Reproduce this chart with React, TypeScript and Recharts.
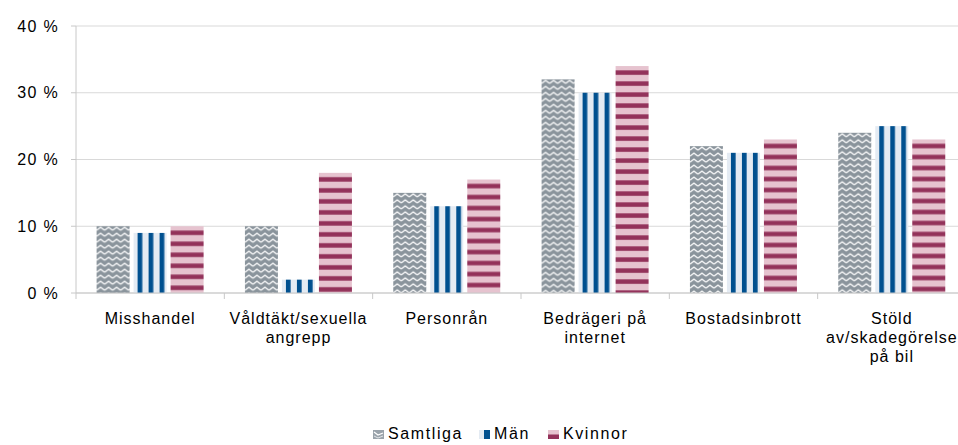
import { BarChart, Bar, XAxis, YAxis, CartesianGrid, Legend } from "recharts";

const categories = [
  "Misshandel",
  "Våldtäkt/sexuella\nangrepp",
  "Personrån",
  "Bedrägeri på\ninternet",
  "Bostadsinbrott",
  "Stöld\nav/skadegörelse\npå bil",
];
const samtliga = [10, 10, 15, 32, 22, 24];
const man = [9, 2, 13, 30, 21, 25];
const kvinnor = [10, 18, 17, 34, 23, 23];
const yTicks = [0, 10, 20, 30, 40];

const data = categories.map((name, i) => ({
  name,
  samtliga: samtliga[i],
  man: man[i],
  kvinnor: kvinnor[i],
}));

const FONT = "'Liberation Sans', Arial, Helvetica, sans-serif";
const AXIS = "#c8c8c8";

const patternShape = (id: string) => (props: any) => {
  const { x, y, width, height } = props;
  if (!height || height <= 0) return <g />;
  return (
    <g transform={`translate(${x},${y})`}>
      <rect x={0} y={0} width={width} height={height} fill={`url(#${id})`} />
    </g>
  );
};

const XTick = (props: any) => {
  const { x, y, payload, index } = props;
  const lines = String(payload.value).split("\n");
  const off = payload.offset || 0;
  return (
    <g>
      <line x1={x - off} y1={y} x2={x - off} y2={y + 6} stroke={AXIS} />
      {index === categories.length - 1 && (
        <line x1={x + off} y1={y} x2={x + off} y2={y + 6} stroke={AXIS} />
      )}
      <text
        x={x}
        y={y}
        textAnchor="middle"
        fontSize={16}
        fontFamily={FONT}
        fill="#000"
        style={{ letterSpacing: "1px" }}
      >
        {lines.map((l, i) => (
          <tspan key={i} x={x} y={y + 31 + i * 19}>
            {l}
          </tspan>
        ))}
      </text>
    </g>
  );
};

const legendItems = [
  { label: "Samtliga", icon: "samtliga" },
  { label: "Män", icon: "man" },
  { label: "Kvinnor", icon: "kvinnor" },
];

const LegendIcon = ({ kind }: { kind: string }) => (
  <svg width={11} height={9} style={{ marginRight: 4 }}>
    {kind === "samtliga" && (
      <>
        <rect width={11} height={9} fill="#9aa3ab" />
        <polyline points="1,2 5,5 10,3" fill="none" stroke="#fff" strokeWidth={1.2} />
        <polyline points="1,6 5,8 10,6" fill="none" stroke="#e4e7ea" strokeWidth={1} />
      </>
    )}
    {kind === "man" && (
      <>
        <rect width={11} height={9} fill="#e4ebf3" />
        <rect x={5} width={6} height={9} fill="#00508f" />
      </>
    )}
    {kind === "kvinnor" && (
      <>
        <rect width={11} height={9} fill="#e6c3cf" />
        <rect y={4.5} width={11} height={4.5} fill="#93325a" />
      </>
    )}
  </svg>
);

const LegendContent = () => (
  <div
    style={{
      display: "flex",
      alignItems: "center",
      height: 22,
      fontFamily: FONT,
      fontSize: 16,
      letterSpacing: "1.6px",
      color: "#000",
    }}
  >
    {legendItems.map((it, i) => (
      <div
        key={it.label}
        style={{ display: "flex", alignItems: "center", marginRight: i === 0 ? 16 : 18 }}
      >
        <LegendIcon kind={it.icon} />
        <span>{it.label}</span>
      </div>
    ))}
  </div>
);

export default function App() {
  return (
    <div
      style={{
        position: "fixed",
        left: 0,
        top: 0,
        width: 958,
        height: 445,
        overflow: "hidden",
        background: "#fff",
      }}
    >
      <BarChart
        width={975}
        height={445}
        data={data}
        margin={{ top: 26, right: 9, left: 0, bottom: 0 }}
        barCategoryGap={20.6}
        barGap={4}
      >
        <defs>
          <pattern id="patSamtliga" width={8} height={6} patternUnits="userSpaceOnUse">
            <rect width={8} height={6} fill="#8a949c" />
            <polyline points="0,4 4,1 8,4" fill="none" stroke="#fff" strokeWidth={1.4} />
          </pattern>
          <pattern id="patMan" width={11} height={11} patternUnits="userSpaceOnUse">
            <rect width={11} height={11} fill="#e4ebf3" />
            <rect x={4} y={0} width={4.7} height={11} fill="#00508f" />
          </pattern>
          <pattern id="patKvinnor" width={11} height={11} patternUnits="userSpaceOnUse">
            <rect width={11} height={11} fill="#e6c3cf" />
            <rect x={0} y={4.3} width={11} height={4.5} fill="#93325a" />
          </pattern>
        </defs>
        <CartesianGrid vertical={false} stroke="#d9d9d9" />
        <XAxis
          dataKey="name"
          interval={0}
          tickLine={false}
          tickSize={0}
          tickMargin={0}
          axisLine={{ stroke: AXIS }}
          tick={<XTick />}
          height={130}
        />
        <YAxis
          domain={[0, 40]}
          ticks={yTicks}
          width={76}
          tickFormatter={(v: number) => `${v} %`}
          axisLine={{ stroke: AXIS }}
          tickLine={{ stroke: AXIS }}
          tickSize={5}
          tickMargin={12}
          tick={{ fontSize: 16, fontFamily: FONT, fill: "#000", style: { letterSpacing: "1.3px" } }}
        />
        <Legend
          verticalAlign="bottom"
          align="left"
          content={<LegendContent />}
          wrapperStyle={{ left: 373, bottom: 0, width: "auto" }}
        />
        <Bar
          dataKey="samtliga"
          name="Samtliga"
          isAnimationActive={false}
          shape={patternShape("patSamtliga")}
        />
        <Bar dataKey="man" name="Män" isAnimationActive={false} shape={patternShape("patMan")} />
        <Bar
          dataKey="kvinnor"
          name="Kvinnor"
          isAnimationActive={false}
          shape={patternShape("patKvinnor")}
        />
      </BarChart>
    </div>
  );
}
